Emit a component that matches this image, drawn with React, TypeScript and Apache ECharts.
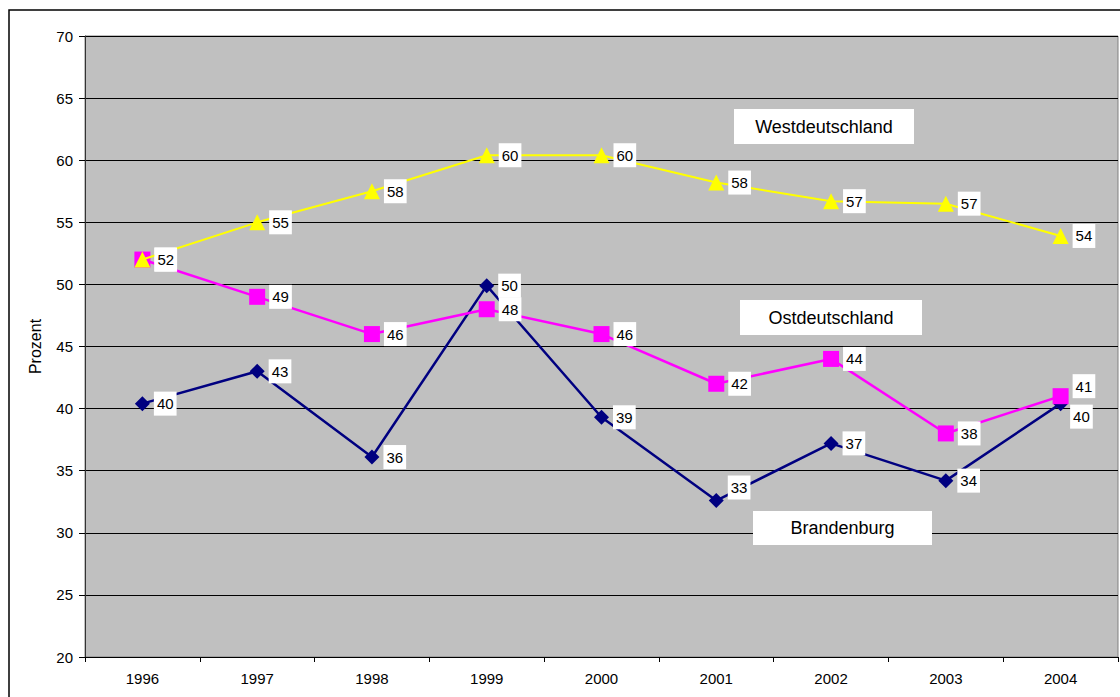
import React, { useEffect, useRef } from "react";
import * as echarts from "echarts";

const years = ["1996", "1997", "1998", "1999", "2000", "2001", "2002", "2003", "2004"];
const westdeutschland = [52, 55, 57.5, 60.4, 60.4, 58.2, 56.7, 56.5, 53.9];
const ostdeutschland = [52, 49, 46, 48, 46, 42, 44, 38, 41];
const brandenburg = [40.4, 43, 36.1, 49.9, 39.3, 32.6, 37.2, 34.2, 40.4];
const seriesNames = ["Brandenburg", "Ostdeutschland", "Westdeutschland"];
const yTicks = { min: 20, max: 70, interval: 5 };

const font = "Liberation Sans, Arial, sans-serif";

const labelBase = {
  show: true,
  position: "right" as const,
  distance: 4,
  color: "#000",
  fontSize: 15,
  fontFamily: font,
  backgroundColor: "#fff",
  padding: [5, 3, 4, 3],
  formatter: (p: any) => String(Math.round(p.value)),
};

function withOffsets(values: number[], offsets: Record<number, number[]>) {
  return values.map((v, i) =>
    offsets[i] ? { value: v, label: { offset: offsets[i] } } : v
  );
}

export default function App() {
  const ref = useRef<HTMLDivElement>(null);
  useEffect(() => {
    if (!ref.current) return;
    const chart = echarts.init(ref.current, null, { renderer: "svg" });
    const boxes = [
      { text: seriesNames[2], x: 734, y: 109, w: 180, h: 35 },
      { text: seriesNames[1], x: 740, y: 300, w: 182, h: 35 },
      { text: seriesNames[0], x: 753, y: 511, w: 179, h: 34 },
    ];
    chart.setOption({
      animation: false,
      backgroundColor: "#fff",
      grid: { left: 85, top: 36, right: 2, bottom: 40, show: true, backgroundColor: "#C0C0C0", borderColor: "#808080", borderWidth: 1 },
      xAxis: {
        type: "category",
        data: years,
        boundaryGap: true,
        axisLine: { show: true, lineStyle: { color: "#000", width: 1 } },
        axisTick: { show: true, length: 5, lineStyle: { color: "#000" } },
        axisLabel: { color: "#000", fontSize: 15, fontFamily: font, margin: 14 },
        splitLine: { show: false },
      },
      yAxis: {
        type: "value",
        min: yTicks.min,
        max: yTicks.max,
        interval: yTicks.interval,
        name: "Prozent",
        nameLocation: "middle",
        nameGap: 42,
        nameTextStyle: { color: "#000", fontSize: 16, fontFamily: font },
        axisLine: { show: true, lineStyle: { color: "#333", width: 1 } },
        axisTick: { show: true, length: 6, lineStyle: { color: "#000" } },
        axisLabel: { color: "#000", fontSize: 15, fontFamily: font, margin: 12 },
        splitLine: { show: true, lineStyle: { color: "#000", width: 1 } },
      },
      series: [
        {
          name: seriesNames[0],
          type: "line",
          data: withOffsets(brandenburg, { 5: [0, -13], 8: [-2, 13] }),
          symbol: "diamond",
          symbolSize: 15,
          itemStyle: { color: "#000080" },
          lineStyle: { color: "#000080", width: 2.5 },
          label: labelBase,
          z: 2,
        },
        {
          name: seriesNames[1],
          type: "line",
          data: withOffsets(ostdeutschland, { 8: [0, -10] }),
          symbol: "rect",
          symbolSize: 16,
          itemStyle: { color: "#FF00FF" },
          lineStyle: { color: "#FF00FF", width: 2.5 },
          label: labelBase,
          z: 3,
        },
        {
          name: seriesNames[2],
          type: "line",
          data: westdeutschland,
          symbol: "triangle",
          symbolSize: 16,
          itemStyle: { color: "#FFFF00" },
          lineStyle: { color: "#FFFF00", width: 2 },
          label: labelBase,
          z: 4,
        },
      ],
      graphic: [
        {
          type: "rect",
          shape: { x: 9, y: 10, width: 1300, height: 900 },
          style: { fill: "none", stroke: "#000", lineWidth: 1.5 },
          z: 100,
          silent: true,
        },
        ...boxes.flatMap((b) => [
          { type: "rect", z: 50, shape: { x: b.x, y: b.y, width: b.w, height: b.h }, style: { fill: "#fff" } },
          {
            type: "text",
            z: 51,
            x: b.x + b.w / 2,
            y: b.y + b.h / 2,
            style: { text: b.text, fill: "#000", font: `18px ${font}`, align: "center", verticalAlign: "middle" },
          },
        ]),
      ],
    });
    return () => chart.dispose();
  }, []);
  return <div ref={ref} style={{ position: "fixed", left: 0, top: 0, width: 1120, height: 697 }} />;
}
